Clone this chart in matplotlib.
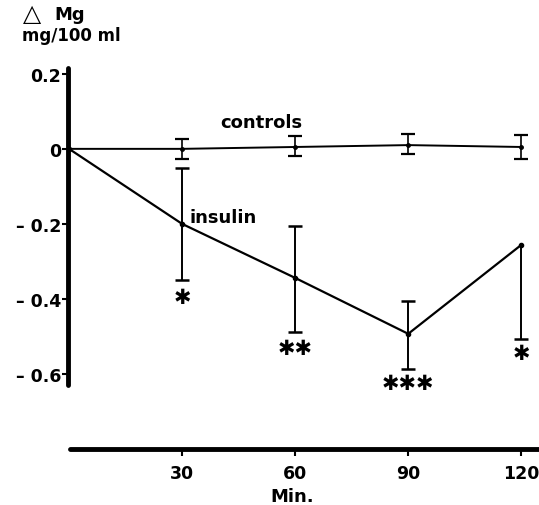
import numpy as np
import matplotlib.pyplot as plt

plt.rcParams['font.family'] = ['DejaVu Sans']
plt.rcParams['font.weight'] = 'bold'

minutes = [0, 30, 60, 90, 120]
controls = [0.0, 0.0, 0.005, 0.01, 0.005]
controls_hi = [0.0, 0.027, 0.035, 0.04, 0.037]
controls_lo = [0.0, -0.027, -0.02, -0.013, -0.027]
insulin = [0.0, -0.2, -0.344, -0.493, -0.256]
insulin_hi = [0.0, -0.05, -0.205, -0.405, -0.256]
insulin_lo = [0.0, -0.35, -0.487, -0.587, -0.508]
stars = ['', '✱', '✱✱', '✱✱✱', '✱']
star_y = [0, -0.395, -0.53, -0.625, -0.545]
yticks = [0.2, 0, -0.2, -0.4, -0.6]
ylabels = ['0.2', '0', '– 0.2', '– 0.4', '– 0.6']
xticks = [30, 60, 90, 120]

fig = plt.figure(figsize=(5.39, 5.06), dpi=100)
ax = fig.add_axes([0.126, 0.1107, 0.874, 0.757])

c = np.array(controls)
i = np.array(insulin)
ch = np.array(controls_hi)
cl = np.array(controls_lo)
ih = np.array(insulin_hi)
il = np.array(insulin_lo)

ax.plot(minutes, c, 'k-', lw=1.4, marker='o', ms=2.5)
ax.errorbar(minutes[1:], c[1:], yerr=[c[1:] - cl[1:], ch[1:] - c[1:]],
            fmt='none', ecolor='k', elinewidth=1.2, capsize=5, capthick=1.6)
ax.plot(minutes, i, 'k-', lw=1.6, marker='o', ms=3)

# bars: caps only where the bar has length
for m, y, lo, hi in zip(minutes[1:], i[1:], il[1:], ih[1:]):
    ax.vlines(m, lo, hi, color='k', lw=1.4)
    for end in (lo, hi):
        if end != y:
            ax.plot(m, end, 'k_', ms=10, mew=1.8)

for m, s, y in zip(minutes, stars, star_y):
    if s:
        ax.text(m, y, s, ha='center', va='center', fontsize=15)

ax.text(51, 0.072, 'controls', ha='center', va='center', fontsize=13)
ax.text(40.8, -0.181, 'insulin', ha='center', va='center', fontsize=13)

ax.set_xlim(-0.3, 124.7)
ax.set_ylim(-0.8, 0.221)
ax.spines['top'].set_visible(False)
ax.spines['right'].set_visible(False)
ax.spines['left'].set_linewidth(3.5)
ax.spines['left'].set_bounds(-0.63, 0.215)
ax.spines['left'].set_capstyle('round')
ax.spines['bottom'].set_linewidth(3.5)
ax.spines['bottom'].set_bounds(0.3, 124.7)
ax.spines['bottom'].set_capstyle('round')

ax.set_yticks(yticks)
ax.set_yticklabels(ylabels, fontsize=12.5)
ax.set_xticks(xticks)
ax.set_xticklabels([str(t) for t in xticks], fontsize=12.5)
ax.tick_params(axis='y', length=4, width=1.5, pad=1)
ax.tick_params(axis='x', length=5, width=1.5, pad=6)

fig.text(0.042, 0.972, '△', fontsize=17, va='center', ha='left',
         fontweight='bold')
fig.text(0.100, 0.970, 'Mg', fontsize=13, va='center', ha='left')
fig.text(0.04, 0.928, 'mg/100 ml', fontsize=12, va='center', ha='left')
fig.text(0.542, 0.018, 'Min.', fontsize=13, va='center', ha='center')

fig.savefig('out.png', dpi=100)
